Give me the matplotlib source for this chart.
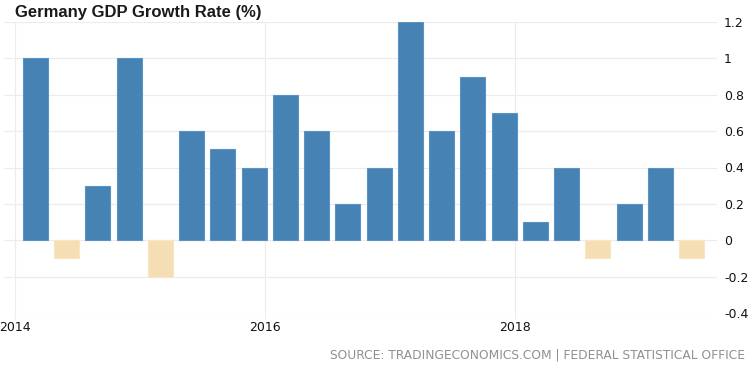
import numpy as np
import matplotlib.pyplot as plt

# Germany GDP growth rate, quarter on quarter, 2014 Q1 .. 2019 Q2
quarters = [f"{y}Q{q}" for y in range(2014, 2020) for q in range(1, 5)][:22]
growth = [1.0, -0.1, 0.3, 1.0, -0.2, 0.6, 0.5, 0.4, 0.8, 0.6, 0.2,
          0.4, 1.2, 0.6, 0.9, 0.7, 0.1, 0.4, -0.1, 0.2, 0.4, -0.1]
year_ticks = [2014, 2016, 2018]
y_ticks = [-0.4, -0.2, 0, 0.2, 0.4, 0.6, 0.8, 1, 1.2]

BLUE = "#4682b4"
SAND = "#f5deb3"
GRID = "#ececec"

# bar positions in years (quarter index -> fractional year)
x = np.array([int(q[:4]) + (int(q[-1]) - 1) / 4 + 0.164 for q in quarters])
vals = np.array(growth)
colors = [BLUE if v >= 0 else SAND for v in vals]
edges = ["#5b93c4" if v >= 0 else "#f8e6c4" for v in vals]

fig = plt.figure(figsize=(7.49, 3.66), dpi=100)
ax = fig.add_axes([4 / 749, 53 / 366, 713 / 749, 291 / 366])

ax.bar(x, vals, width=0.2, color=colors, edgecolor=edges, linewidth=0.8, zorder=3)

ax.set_xlim(2014 - 0.088, 2014 + 5.616)
ax.set_ylim(-0.4, 1.2)

ax.set_xticks(year_ticks)
ax.set_xticklabels([str(y) for y in year_ticks])
ax.set_yticks(y_ticks)
ax.set_yticklabels(["-0.4", "-0.2", "0", "0.2", "0.4", "0.6", "0.8", "1", "1.2"])

ax.yaxis.tick_right()
ax.tick_params(axis="y", length=0, pad=5, labelsize=9, labelcolor="#111111")
ax.tick_params(axis="x", length=4, width=0.8, color=GRID, pad=2, labelsize=9, labelcolor="#111111")
for lab in ax.get_xticklabels() + ax.get_yticklabels():
    lab.set_fontfamily("DejaVu Sans")

ax.grid(True, color=GRID, linewidth=0.8, zorder=0)
for s in ax.spines.values():
    s.set_visible(False)

fig.text(15 / 749, 1 - 12 / 366, "Germany GDP Growth Rate (%)", fontsize=12, fontweight="bold",
         family="Liberation Sans", color="#1a1a1a", va="center", ha="left")
fig.text(745 / 749, 1 - 355 / 366, "SOURCE: TRADINGECONOMICS.COM | FEDERAL STATISTICAL OFFICE",
         fontsize=8.8, color="#909090", family="DejaVu Sans", ha="right", va="center")

fig.savefig("out.png", dpi=100)
